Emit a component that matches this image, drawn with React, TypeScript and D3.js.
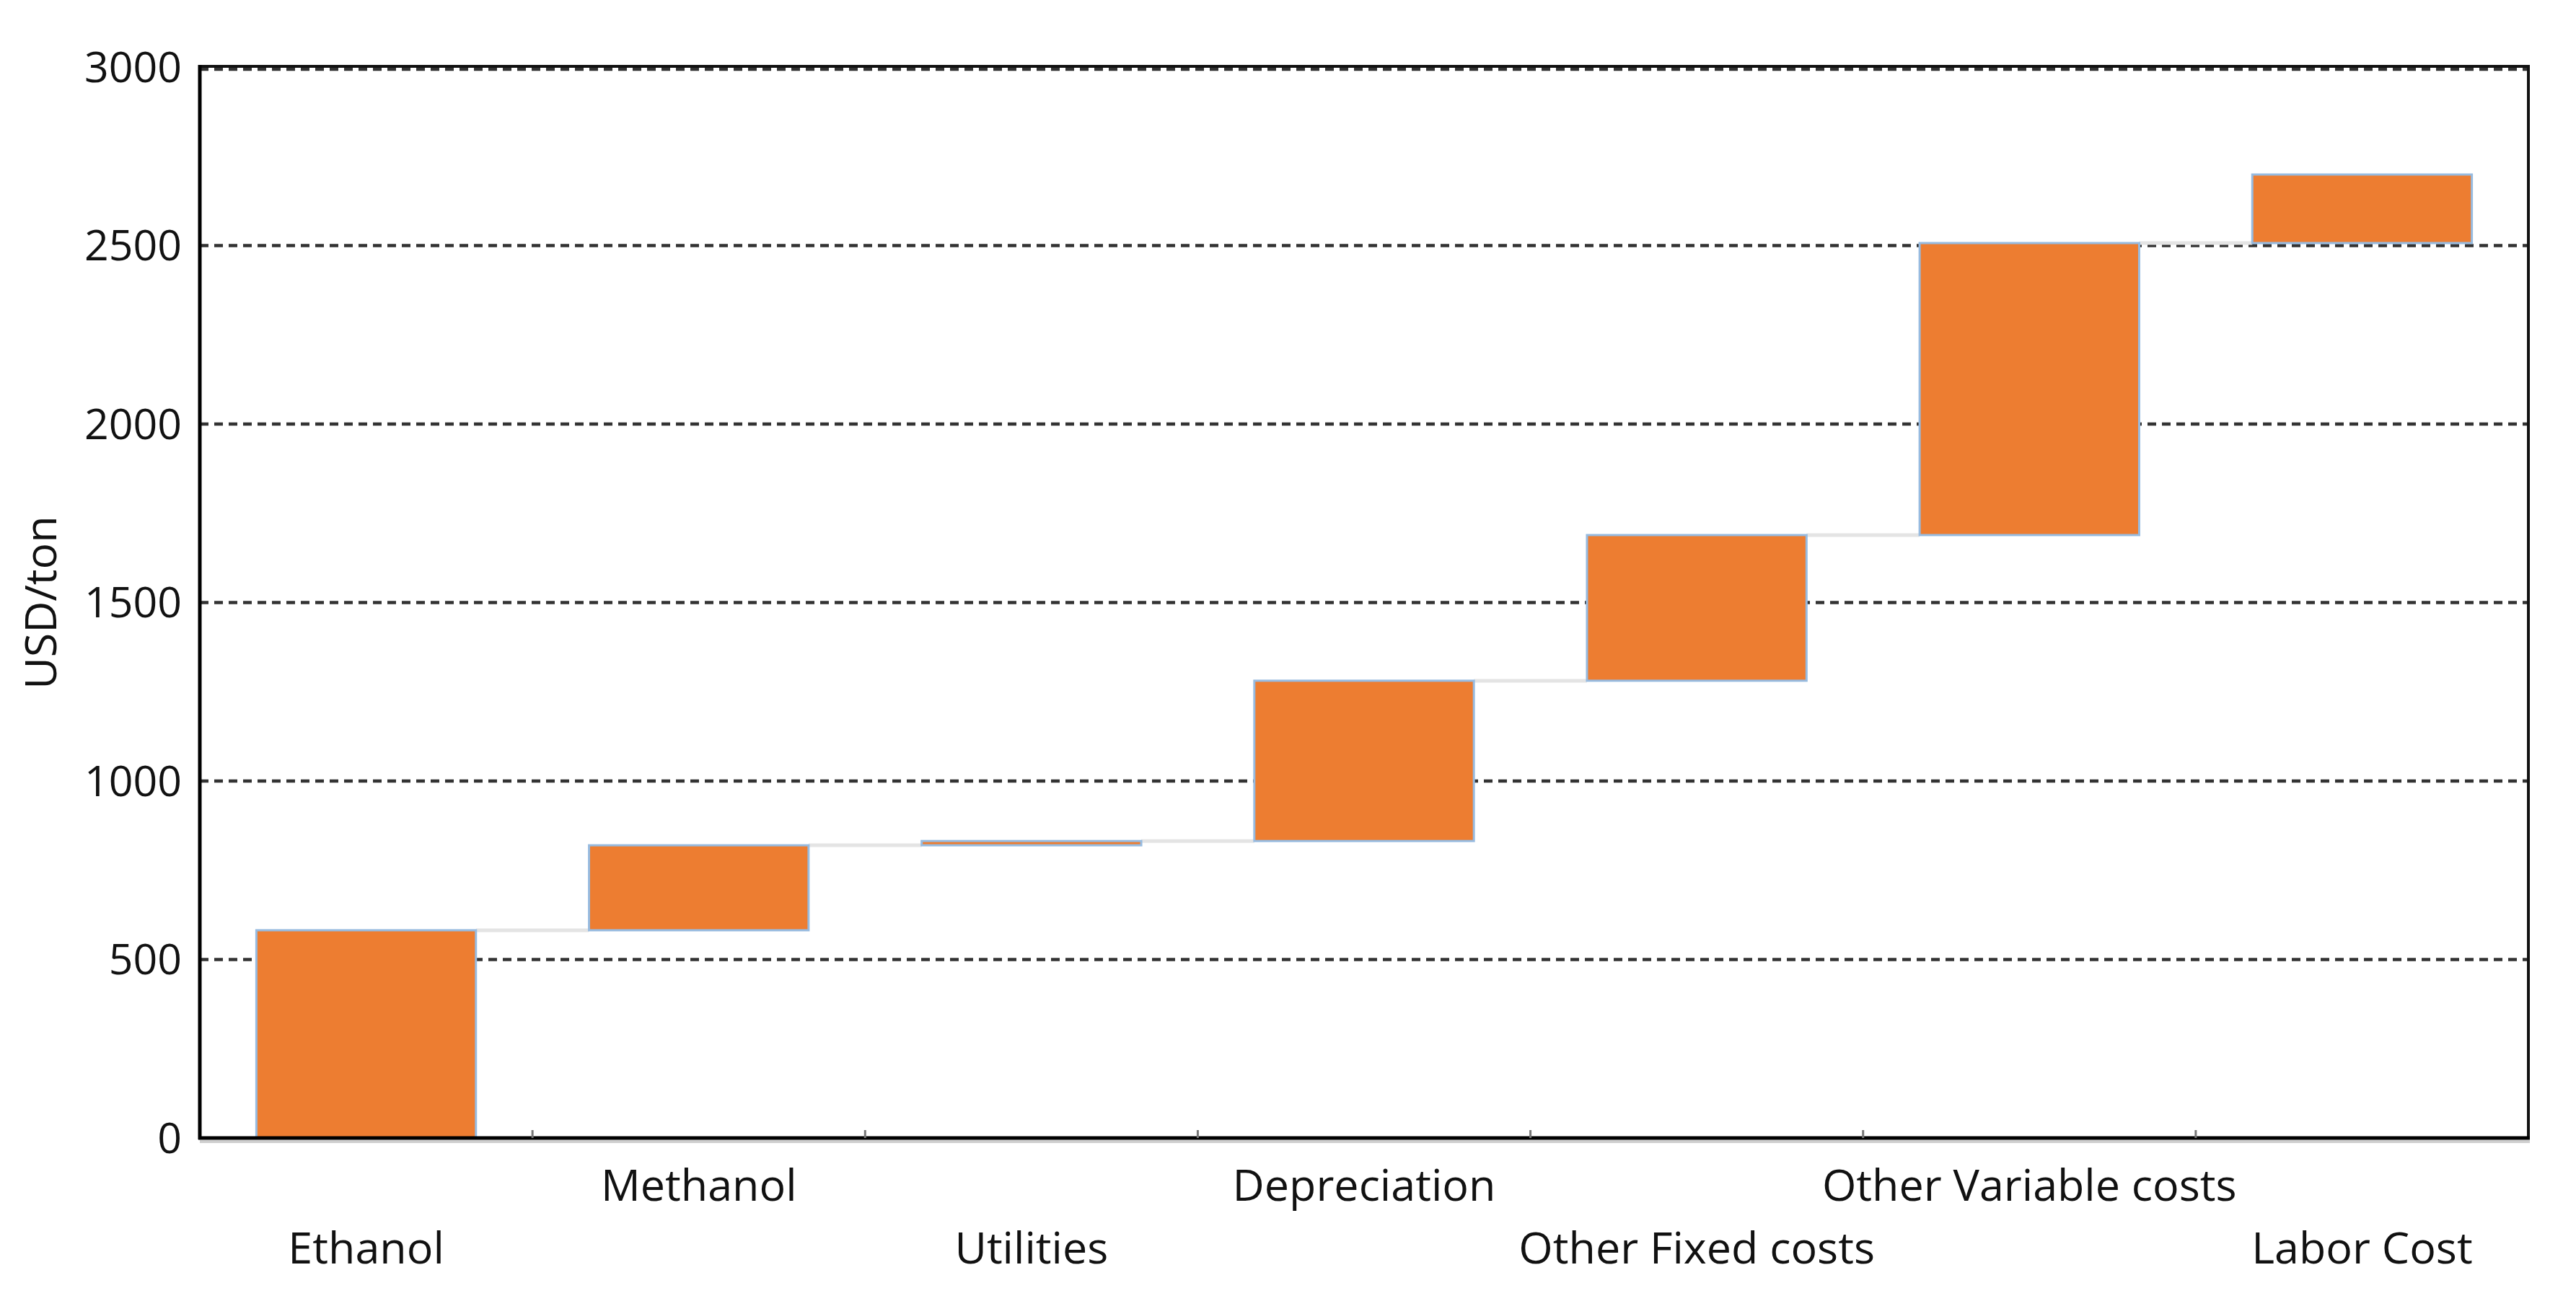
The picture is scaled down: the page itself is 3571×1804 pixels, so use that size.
import React from 'react'
import * as d3 from 'd3'

// cost breakdown (USD/ton)
const categories = [
  'Ethanol',
  'Methanol',
  'Utilities',
  'Depreciation',
  'Other Fixed costs',
  'Other Variable costs',
  'Labor Cost'
]
const increments = [582, 238, 12, 449, 408, 818, 192]
const yTicks = [0, 500, 1000, 1500, 2000, 2500, 3000]

const W = 3571
const H = 1804
const margin = { top: 93, right: 66, bottom: 226, left: 277 }

const FONT = '"Open Sans", "Noto Sans", sans-serif'
const ORANGE = '#ED7D31'

export default function App() {
  const innerLeft = margin.left
  const innerRight = W - margin.right
  const innerTop = margin.top
  const innerBottom = H - margin.bottom

  const x = d3
    .scaleBand<string>()
    .domain(categories)
    .range([innerLeft, innerRight])
    .paddingInner(0.34)
    .paddingOuter(0.17)

  const y = d3.scaleLinear().domain([0, 3000]).range([innerBottom, innerTop])

  // running totals for the waterfall
  const ends = d3.cumsum(increments)
  const bars = categories.map((c, i) => ({
    name: c,
    start: i === 0 ? 0 : ends[i - 1],
    end: ends[i]
  }))

  const step = x.step()
  const boundaries = categories.slice(1).map(c => (x(c) as number) - (step - x.bandwidth()) / 2)

  return (
    <div style={{ position: 'absolute', left: 0, top: 0 }}>
      <svg width={W} height={H} style={{ display: 'block', background: '#fff' }}>
        {/* grid lines */}
        {yTicks.filter(t => t > 0).map(t => (
          <line
            key={'g' + t}
            x1={innerLeft}
            x2={innerRight}
            y1={y(t) + (t === 3000 ? 3 : 0)}
            y2={y(t) + (t === 3000 ? 3 : 0)}
            stroke="#333"
            strokeWidth={4.5}
            strokeDasharray="12 8"
          />
        ))}

        {/* connectors */}
        {bars.slice(0, -1).map((b, i) => (
          <line
            key={'c' + i}
            x1={(x(b.name) as number) + x.bandwidth()}
            x2={x(bars[i + 1].name) as number}
            y1={y(b.end)}
            y2={y(b.end)}
            stroke="#e4e4e4"
            strokeWidth={5}
          />
        ))}

        {/* bars */}
        {bars.map(b => (
          <rect
            key={b.name}
            x={x(b.name)}
            width={x.bandwidth()}
            y={y(b.end)}
            height={Math.max(1, y(b.start) - y(b.end))}
            fill={ORANGE}
            stroke="#97bbe0"
            strokeWidth={3}
          />
        ))}

        {/* frame */}
        <line x1={innerLeft} x2={innerRight + 2} y1={innerTop - 1} y2={innerTop - 1} stroke="#111" strokeWidth={4} />
        <line x1={innerRight} x2={innerRight} y1={innerTop - 3} y2={innerBottom} stroke="#111" strokeWidth={4} />
        <line x1={innerLeft} x2={innerRight + 2} y1={innerBottom + 5} y2={innerBottom + 5} stroke="#cfcfcf" strokeWidth={4} />
        <line x1={innerLeft} x2={innerLeft} y1={innerTop - 3} y2={innerBottom + 2} stroke="#000" strokeWidth={5} />
        <line x1={innerLeft - 2} x2={innerRight + 2} y1={innerBottom} y2={innerBottom} stroke="#000" strokeWidth={5} />

        {/* category ticks */}
        {boundaries.map((bx, i) => (
          <line key={'t' + i} x1={bx} x2={bx} y1={innerBottom} y2={innerBottom - 11} stroke="#777" strokeWidth={3} />
        ))}

        {/* y tick labels */}
        {yTicks.map(t => (
          <text
            key={'y' + t}
            x={innerLeft - 25}
            y={y(t)}
            dy="0.35em"
            textAnchor="end"
            fontFamily={FONT}
            fontSize={59}
            fill="#111"
          >
            {t}
          </text>
        ))}

        {/* x labels, staggered in two rows */}
        {categories.map((c, i) => (
          <text
            key={'x' + c}
            x={(x(c) as number) + x.bandwidth() / 2}
            y={i % 2 === 1 ? 1665 : 1752}
            textAnchor="middle"
            fontFamily={FONT}
            fontSize={61}
            fill="#111"
          >
            {c}
          </text>
        ))}

        {/* y axis title */}
        <text
          transform={`translate(57, ${(innerTop + innerBottom) / 2}) rotate(-90)`}
          textAnchor="middle"
          dy="0.35em"
          fontFamily={FONT}
          fontSize={61}
          fill="#111"
        >
          USD/ton
        </text>
      </svg>
    </div>
  )
}
